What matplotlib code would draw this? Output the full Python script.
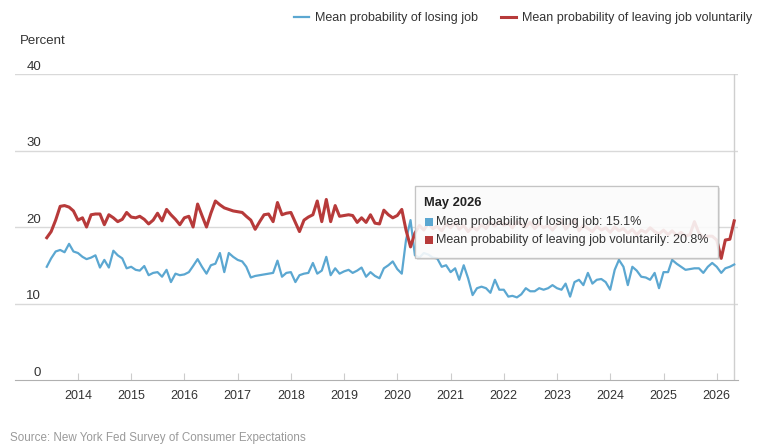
import pandas as pd
import matplotlib
matplotlib.use('Agg')
import matplotlib.pyplot as plt
from matplotlib.patches import Rectangle
from matplotlib.lines import Line2D

plt.rcParams['font.family'] = ['Liberation Sans', 'DejaVu Sans']

# monthly survey values, Jun 2013 .. May 2026
months = pd.date_range('2013-06-01', periods=156, freq='MS')

losing_job = [
    14.8, 15.9, 16.8, 17.0, 16.7, 17.8, 16.8,                                # 2013
    16.6, 16.1, 15.8, 16.0, 16.3, 14.7, 15.7, 14.7, 16.9, 16.3, 15.9, 14.6,  # 2014
    14.8, 14.4, 14.3, 14.9, 13.7, 14.0, 14.1, 13.5, 14.4, 12.8, 13.9, 13.7,  # 2015
    13.8, 14.1, 14.9, 15.8, 14.8, 13.9, 15.0, 15.2, 16.6, 14.1, 16.6, 16.1,  # 2016
    15.7, 15.5, 14.8, 13.4, 13.6, 13.7, 13.8, 13.9, 14.0, 15.6, 13.5, 14.0,  # 2017
    14.1, 12.8, 13.7, 13.9, 14.0, 15.3, 13.9, 14.3, 16.1, 13.7, 14.6, 13.9,  # 2018
    14.2, 14.4, 14.0, 14.3, 14.7, 13.5, 14.1, 13.6, 13.3, 14.6, 15.0, 15.5,  # 2019
    14.5, 13.9, 18.3, 20.9, 16.3, 16.0, 16.6, 16.4, 16.0, 15.9, 14.8, 15.0,  # 2020
    14.1, 14.6, 13.1, 15.0, 13.3, 11.1, 12.0, 12.2, 12.0, 11.4, 13.1, 11.8,  # 2021
    11.8, 10.9, 11.0, 10.8, 11.2, 12.0, 11.6, 11.6, 12.0, 11.8, 12.0, 12.4,  # 2022
    12.0, 11.8, 12.6, 10.9, 12.8, 13.1, 12.4, 14.0, 12.6, 13.1, 13.2, 12.8,  # 2023
    11.8, 14.4, 15.7, 14.8, 12.4, 14.8, 14.3, 13.5, 13.4, 13.1, 14.0, 12.0,  # 2024
    14.1, 14.1, 15.7, 15.2, 14.8, 14.4, 14.5, 14.6, 14.6, 14.0, 14.8, 15.3,  # 2025
    14.8, 14.0, 14.6, 14.8, 15.1,                                            # 2026
]

leaving_job = [
    18.6, 19.4, 20.9, 22.7, 22.8, 22.6, 22.1,                                # 2013
    20.9, 21.2, 20.0, 21.6, 21.7, 21.7, 20.3, 21.6, 21.2, 20.7, 21.0, 21.9,  # 2014
    21.3, 21.2, 21.4, 21.0, 20.4, 20.9, 21.8, 20.8, 22.3, 21.6, 21.0, 20.3,  # 2015
    21.2, 21.4, 20.0, 23.0, 21.5, 20.0, 21.8, 23.4, 22.9, 22.5, 22.3, 22.1,  # 2016
    22.0, 21.9, 21.4, 20.9, 19.7, 20.7, 21.6, 21.7, 20.7, 23.2, 21.6, 21.8,  # 2017
    21.9, 20.6, 19.4, 20.9, 21.3, 21.6, 23.4, 20.7, 23.6, 20.7, 22.8, 21.4,  # 2018
    21.5, 21.6, 21.5, 20.6, 21.2, 20.6, 21.6, 20.5, 20.4, 22.2, 21.6, 21.2,  # 2019
    21.5, 22.3, 19.6, 17.4, 19.2, 20.2, 19.6, 20.5, 19.8, 20.1, 19.5, 20.4,  # 2020
    19.9, 20.6, 19.7, 20.2, 19.4, 20.0, 19.6, 20.3, 19.8, 20.6, 20.1, 20.8,  # 2021
    20.2, 20.5, 19.9, 20.7, 20.3, 20.0, 20.6, 19.8, 20.4, 19.9, 20.2, 19.6,  # 2022
    20.3, 20.8, 19.7, 20.4, 20.9, 19.5, 20.2, 19.8, 19.4, 20.1, 19.6, 19.9,  # 2023
    19.3, 20.0, 19.5, 19.8, 19.2, 19.7, 19.0, 19.6, 19.3, 19.9, 19.4, 19.1,  # 2024
    19.6, 19.0, 19.5, 18.9, 19.3, 18.8, 19.0, 20.7, 19.2, 18.6, 18.8, 18.8,  # 2025
    18.3, 15.9, 18.3, 18.4, 20.8,                                            # 2026
]

year_ticks = list(range(2014, 2027))
y_gridlines = [10, 20, 30, 40]
y_labels = [0, 10, 20, 30, 40]

BLUE = '#5ba7d1'
RED = '#b73a3a'
W, H = 760, 445


def fx(px):
    return px / W


def fy(py):
    return 1 - py / H


fig = plt.figure(figsize=(W / 100, H / 100), dpi=100)
ax = fig.add_axes([fx(15), fy(380), fx(738) - fx(15), fy(74) - fy(380)])

ax.plot(months, losing_job, color=BLUE, lw=1.6, zorder=3)
ax.plot(months, leaving_job, color=RED, lw=2.2, zorder=3)

ax.set_ylim(0, 40)
ax.set_xlim(pd.Timestamp('2012-10-26'), pd.Timestamp('2026-05-27'))
for v in y_gridlines:
    ax.axhline(v, color='#d9d9d9', lw=1, zorder=0)
ax.axvline(months[-1], color='#cfcfcf', lw=1, zorder=1)

for s in ['top', 'left', 'right']:
    ax.spines[s].set_visible(False)
ax.spines['bottom'].set_color('#b0b0b0')
ax.set_yticks([])
ax.set_xticks([pd.Timestamp(f'{y}-01-01') for y in year_ticks])
ax.set_xticklabels([str(y) for y in year_ticks])
ax.tick_params(axis='x', direction='in', length=5, color='#cccccc', pad=7,
               labelsize=9, labelcolor='#333333')

for v in y_labels:
    ax.annotate(str(v), xy=(0.036, v), xycoords=ax.get_yaxis_transform(),
                xytext=(0, 1), textcoords='offset points',
                ha='right', va='bottom', fontsize=9.5, color='#333333')

fig.text(fx(20), fy(41), 'Percent', fontsize=9.5, color='#333333', va='center')
fig.text(fx(10), fy(438), 'Source: New York Fed Survey of Consumer Expectations',
         fontsize=8.4, color='#9a9a9a', va='center')

handles = [Line2D([], [], color=BLUE, lw=1.6), Line2D([], [], color=RED, lw=2.2)]
fig.legend(handles, ['Mean probability of losing job', 'Mean probability of leaving job voluntarily'],
           loc='center right', bbox_to_anchor=(fx(752), fy(18)), ncol=2, frameon=False,
           fontsize=9, handlelength=1.2, handletextpad=0.5, columnspacing=1.8,
           labelcolor='#333333', borderaxespad=0, borderpad=0)

# tooltip
bx0, by0, bx1, by1 = 415, 186, 718, 258
fig.add_artist(Rectangle((fx(bx0 + 2), fy(by1 + 2)), fx(bx1 - bx0), fy(by0) - fy(by1),
                         transform=fig.transFigure, facecolor=(0, 0, 0, 0.10),
                         edgecolor='none', zorder=5))
fig.add_artist(Rectangle((fx(bx0), fy(by1)), fx(bx1 - bx0), fy(by0) - fy(by1),
                         transform=fig.transFigure, facecolor=(1, 1, 1, 0.88),
                         edgecolor='#c4c4c4', lw=1, zorder=6))
fig.text(fx(424), fy(203), months[-1].strftime('%B %Y'), fontsize=9.3, fontweight='bold',
         color='#222222', va='center', zorder=7)
rows = [(BLUE, 'Mean probability of losing job', losing_job[-1], 222),
        (RED, 'Mean probability of leaving job voluntarily', leaving_job[-1], 240)]
for col, name, val, py in rows:
    fig.add_artist(Rectangle((fx(425), fy(py + 4)), fx(8), fy(py - 4) - fy(py + 4),
                             transform=fig.transFigure, facecolor=col, edgecolor='none', zorder=7))
    fig.text(fx(436), fy(py), f'{name}: {val:.1f}%', fontsize=9.0, color='#333333',
             va='center', zorder=7)

fig.savefig('out.png', dpi=100)
